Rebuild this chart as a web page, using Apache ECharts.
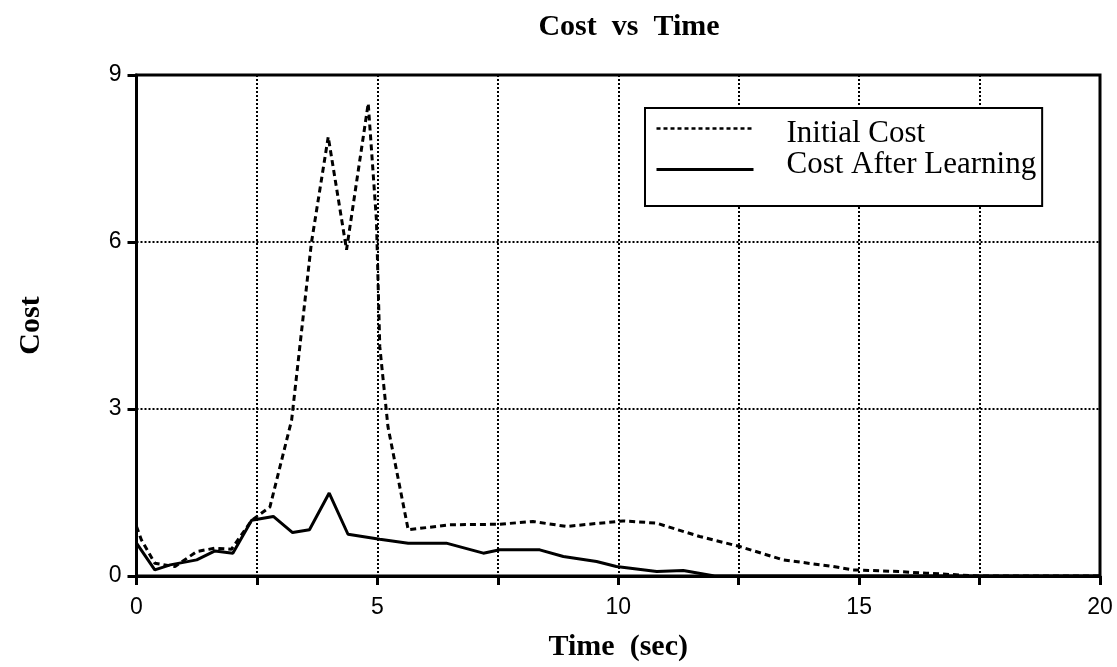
<!DOCTYPE html>
<html>
<head>
<meta charset="utf-8">
<script src="https://cdn.jsdelivr.net/npm/echarts@6/dist/echarts.min.js"></script>
<style>
html,body{margin:0;padding:0;background:#fff;}
#chart{width:1117px;height:667px;}
</style>
</head>
<body>
<div id="chart"></div>
<script>
// Time (sec) and cost values
const initialTime = [0, 0.1, 0.38, 0.8, 1.25, 1.63, 1.97, 2.39, 2.77, 3.22, 3.63, 3.98, 4.36, 4.81, 4.98, 5.05, 5.22, 5.64, 6.5, 7.54, 8.23, 8.92, 10.1, 10.79, 11.69, 12.52, 13.42, 14.46, 14.87, 15.84, 16.4, 17.5, 20];
const initialCost = [0.89, 0.65, 0.23, 0.17, 0.44, 0.5, 0.48, 1.0, 1.24, 2.8, 5.98, 7.89, 5.86, 8.49, 6.4, 4.12, 2.68, 0.83, 0.92, 0.93, 0.98, 0.89, 0.99, 0.95, 0.71, 0.53, 0.29, 0.17, 0.11, 0.08, 0.05, 0.0, 0.0];
const learnedTime = [0, 0.38, 0.7, 1.25, 1.63, 2.0, 2.39, 2.84, 3.24, 3.59, 4.0, 4.39, 5.05, 5.64, 6.43, 7.2, 7.54, 8.37, 8.86, 9.55, 9.96, 10.8, 11.35, 12.0, 20];
const learnedCost = [0.59, 0.11, 0.2, 0.29, 0.45, 0.41, 1.0, 1.07, 0.78, 0.83, 1.49, 0.75, 0.66, 0.59, 0.59, 0.41, 0.47, 0.47, 0.35, 0.26, 0.17, 0.08, 0.1, 0.0, 0.0];
const seriesNames = ['Initial Cost', 'Cost After Learning'];
const xLabelValues = [0, 5, 10, 15, 20];

const zip = (a, b) => a.map((v, i) => [v, b[i]]);

const chart = echarts.init(document.getElementById('chart'), null, {renderer: 'canvas'});
const serif = '"Liberation Serif", "DejaVu Serif", serif';
const sans = '"Liberation Sans", Arial, sans-serif';

chart.setOption({
  backgroundColor: '#fff',
  animation: false,
  title: {
    text: 'Cost  vs  Time',
    left: 624, textAlign: 'center', top: 7,
    textStyle: {fontFamily: serif, fontWeight: 'bold', fontSize: 30, color: '#000'}
  },
  legend: {
    left: 645, top: 108,
    orient: 'vertical',
    backgroundColor: '#fff',
    borderColor: '#000', borderWidth: 2,
    padding: [0, 6, 16, 10],
    itemWidth: 97, itemHeight: 14, itemGap: 0,
    itemStyle: {opacity: 0},
    formatter: name => name === seriesNames[0] ? '{r1|' + name + '}' : '{r2|' + name + '}',
    textStyle: {
      fontFamily: serif, fontSize: 31, color: '#000',
      rich: {
        r1: {fontFamily: serif, fontSize: 31, lineHeight: 32, color: '#000', padding: [10, 0, 0, 28]},
        r2: {fontFamily: serif, fontSize: 31, lineHeight: 32, color: '#000', padding: [0, 0, 10, 28]}
      }
    },
    data: [
      {name: seriesNames[0], lineStyle: {type: [4, 3], width: 2.5}},
      {name: seriesNames[1], lineStyle: {width: 3}}
    ]
  },
  grid: {
    left: 136.5, right: 17, top: 75, bottom: 91,
    show: true, borderColor: '#000', borderWidth: 3
  },
  xAxis: {
    type: 'value', min: 0, max: 20, interval: 2.5,
    name: 'Time  (sec)', nameLocation: 'middle', nameGap: 56, nameMoveOverlap: false,
    nameTextStyle: {fontFamily: serif, fontWeight: 'bold', fontSize: 30, color: '#000'},
    axisLine: {lineStyle: {color: '#000', width: 3}},
    axisTick: {show: true, length: 9, lineStyle: {color: '#000', width: 3}},
    axisLabel: {
      fontFamily: sans, fontSize: 23, color: '#000', margin: 20,
      formatter: v => xLabelValues.includes(v) ? String(v) : ''
    },
    splitLine: {show: true, lineStyle: {color: '#000', type: 'dotted', width: 2}}
  },
  yAxis: {
    type: 'value', min: 0, max: 9, interval: 3,
    name: 'Cost', nameLocation: 'middle', nameGap: 90, nameRotate: 90,
    nameTextStyle: {fontFamily: serif, fontWeight: 'bold', fontSize: 30, color: '#000'},
    axisLine: {show: true, lineStyle: {color: '#000', width: 3}},
    axisTick: {show: true, length: 9, lineStyle: {color: '#000', width: 3}},
    axisLabel: {fontFamily: sans, fontSize: 23, color: '#000', margin: 15},
    splitLine: {show: true, lineStyle: {color: '#000', type: 'dotted', width: 2}}
  },
  series: [
    {
      name: seriesNames[0], type: 'line', symbol: 'none', showSymbol: false,
      data: zip(initialTime, initialCost),
      lineStyle: {color: '#000', width: 3, type: [6, 4]},
      itemStyle: {color: '#000'},
      z: 3
    },
    {
      name: seriesNames[1], type: 'line', symbol: 'none', showSymbol: false,
      data: zip(learnedTime, learnedCost),
      lineStyle: {color: '#000', width: 3, type: 'solid'},
      itemStyle: {color: '#000'},
      z: 4
    }
  ]
});
</script>
</body>
</html>
